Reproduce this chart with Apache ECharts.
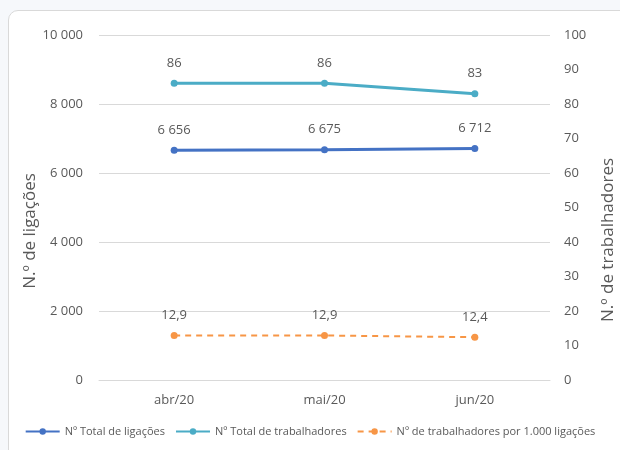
<!DOCTYPE html>
<html>
<head>
<meta charset="utf-8">
<script src="https://cdn.jsdelivr.net/npm/echarts@6/dist/echarts.min.js"></script>
<style>
  html, body { margin: 0; padding: 0; background: #f6f8fb; }
  #frame {
    position: absolute; left: 8px; top: 10px; width: 640px; height: 460px;
    background: #ffffff; border: 1px solid #d9d9d9; border-radius: 10px;
  }
  #chart { position: absolute; left: 0; top: 0; width: 620px; height: 450px; }
</style>
</head>
<body>
<div id="frame"></div>
<div id="chart"></div>
<script>
// Months shown on the category axis
const months = ['abr/20', 'mai/20', 'jun/20'];
// Total connections (left axis)
const totalLigacoes = [6656, 6675, 6712];
// Total workers (right axis)
const totalTrabalhadores = [86, 86, 83];
// Workers per 1,000 connections (right axis)
const trabPorMil = [12.9, 12.9, 12.4];

const seriesNames = [
  'Nº Total de ligações',
  'Nº Total de trabalhadores',
  'Nº de trabalhadores por 1.000 ligações'
];
const leftAxisTitle = 'N.º de ligações';
const rightAxisTitle = 'N.º de trabalhadores';

const textColor = '#595959';
const font = 'Open Sans';

function thousands(v) {
  return String(Math.round(v)).replace(/\B(?=(\d{3})+(?!\d))/g, ' ');
}
function decimalComma(v) {
  return v.toFixed(1).replace('.', ',');
}

const chart = echarts.init(document.getElementById('chart'), null, { renderer: 'canvas' });

const labelBase = {
  show: true, position: 'top', distance: 10,
  color: textColor, fontSize: 13, fontFamily: font
};

// Vertical axis titles, reading bottom to top
function axisTitle(text, x, y) {
  return {
    type: 'text', x: x, y: y, rotation: Math.PI / 2,
    style: {
      text: text, fill: textColor, fontSize: 17, fontFamily: font,
      align: 'center', verticalAlign: 'middle'
    }
  };
}

chart.setOption({
  animation: false,
  backgroundColor: 'transparent',
  textStyle: { fontFamily: font },
  grid: { left: 99, right: 70, top: 35, bottom: 70, containLabel: false, outerBoundsMode: 'none' },
  legend: {
    bottom: 8, left: 'center', width: 610, itemGap: 10, itemWidth: 34, itemHeight: 8,
    textStyle: { color: textColor, fontSize: 11, fontFamily: font },
    data: seriesNames
  },
  graphic: [
    axisTitle(leftAxisTitle, 30, 231),
    axisTitle(rightAxisTitle, 608, 240)
  ],
  xAxis: {
    type: 'category',
    data: months,
    boundaryGap: true,
    axisLine: { show: true, lineStyle: { color: '#d9d9d9' } },
    axisTick: { show: false },
    axisLabel: { color: textColor, fontSize: 13, margin: 14, fontFamily: font }
  },
  yAxis: [
    {
      type: 'value', min: 0, max: 10000, interval: 2000,
      axisLine: { show: false }, axisTick: { show: false },
      axisLabel: { color: textColor, fontSize: 13, margin: 16, fontFamily: font, formatter: thousands },
      splitLine: { show: true, lineStyle: { color: '#d9d9d9' } }
    },
    {
      type: 'value', min: 0, max: 100, interval: 10,
      axisLine: { show: false }, axisTick: { show: false },
      axisLabel: { color: textColor, fontSize: 13, margin: 14, fontFamily: font },
      splitLine: { show: false }
    }
  ],
  series: [
    {
      name: seriesNames[0], type: 'line', yAxisIndex: 0,
      data: totalLigacoes,
      symbol: 'circle', symbolSize: 7,
      itemStyle: { color: '#4472C4' },
      lineStyle: { color: '#4472C4', width: 3 },
      label: Object.assign({}, labelBase, { formatter: p => thousands(p.value) })
    },
    {
      name: seriesNames[1], type: 'line', yAxisIndex: 1,
      data: totalTrabalhadores,
      symbol: 'circle', symbolSize: 7,
      itemStyle: { color: '#4BACC6' },
      lineStyle: { color: '#4BACC6', width: 3 },
      label: Object.assign({}, labelBase, { formatter: p => String(p.value) })
    },
    {
      name: seriesNames[2], type: 'line', yAxisIndex: 1,
      data: trabPorMil,
      symbol: 'circle', symbolSize: 7,
      itemStyle: { color: '#F79646' },
      lineStyle: { color: '#F79646', width: 2, type: [6, 5] },
      label: Object.assign({}, labelBase, { formatter: p => decimalComma(p.value) })
    }
  ]
});
</script>
</body>
</html>
